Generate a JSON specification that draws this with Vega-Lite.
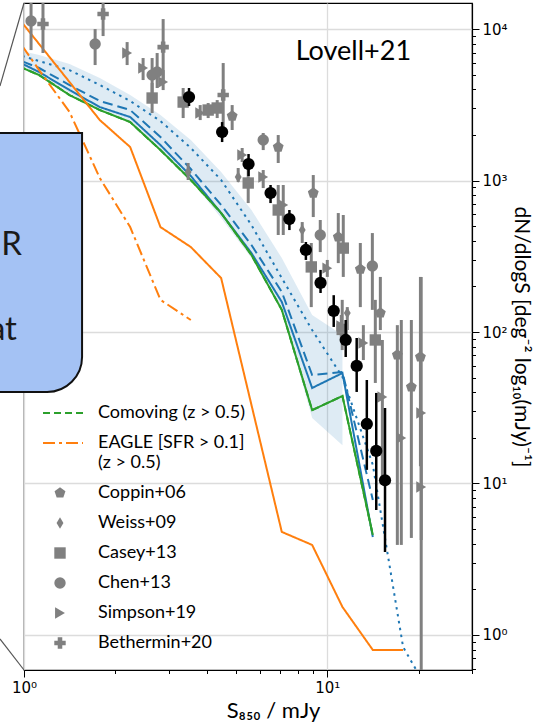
{
  "$schema": "https://vega.github.io/schema/vega-lite/v6.json",
  "width": 448,
  "height": 667,
  "autosize": {"type": "none"},
  "padding": {"left": 24, "top": 3, "right": 67, "bottom": 54},
  "background": "white",
  "config": {
    "view": {"stroke": "#000", "strokeWidth": 1.2},
    "font": "Lato"
  },
  "datasets": {
    "models": [
      {"s": "Fiducial", "x": 0.891, "y": 6530}, {"s": "Fiducial", "x": 1.122, "y": 5200}, {"s": "Fiducial", "x": 1.413, "y": 3956},
      {"s": "Fiducial", "x": 1.778, "y": 3055}, {"s": "Fiducial", "x": 2.239, "y": 2626}, {"s": "Fiducial", "x": 2.818, "y": 1714},
      {"s": "Fiducial", "x": 3.548, "y": 1071}, {"s": "Fiducial", "x": 4.467, "y": 610}, {"s": "Fiducial", "x": 5.623, "y": 332},
      {"s": "Fiducial", "x": 7.079, "y": 158}, {"s": "Fiducial", "x": 8.913, "y": 42.7}, {"s": "Fiducial", "x": 11.22, "y": 53.6},
      {"s": "Fiducial", "x": 14.13, "y": 4.43},
      {"s": "Fiducial (z > 0.5)", "x": 0.891, "y": 6637}, {"s": "Fiducial (z > 0.5)", "x": 1.122, "y": 5530}, {"s": "Fiducial (z > 0.5)", "x": 1.413, "y": 4270},
      {"s": "Fiducial (z > 0.5)", "x": 1.778, "y": 3350}, {"s": "Fiducial (z > 0.5)", "x": 2.239, "y": 2920}, {"s": "Fiducial (z > 0.5)", "x": 2.818, "y": 1937},
      {"s": "Fiducial (z > 0.5)", "x": 3.548, "y": 1191}, {"s": "Fiducial (z > 0.5)", "x": 4.467, "y": 689}, {"s": "Fiducial (z > 0.5)", "x": 5.623, "y": 375},
      {"s": "Fiducial (z > 0.5)", "x": 7.079, "y": 184}, {"s": "Fiducial (z > 0.5)", "x": 8.913, "y": 52.0}, {"s": "Fiducial (z > 0.5)", "x": 11.22, "y": 54.4},
      {"s": "Fiducial (z > 0.5)", "x": 14.13, "y": 7.78},
      {"s": "Lightcone", "x": 0.891, "y": 7047}, {"s": "Lightcone", "x": 1.122, "y": 6150}, {"s": "Lightcone", "x": 1.413, "y": 5360},
      {"s": "Lightcone", "x": 1.778, "y": 4270}, {"s": "Lightcone", "x": 2.239, "y": 3350}, {"s": "Lightcone", "x": 2.818, "y": 2470},
      {"s": "Lightcone", "x": 3.548, "y": 1640}, {"s": "Lightcone", "x": 4.467, "y": 1008}, {"s": "Lightcone", "x": 5.623, "y": 508},
      {"s": "Lightcone", "x": 7.079, "y": 227}, {"s": "Lightcone", "x": 8.913, "y": 103}, {"s": "Lightcone", "x": 11.22, "y": 50.5},
      {"s": "Lightcone", "x": 14.13, "y": 13.25}, {"s": "Lightcone", "x": 17.78, "y": 0.833}, {"s": "Lightcone", "x": 22.39, "y": 0.372},
      {"s": "Comoving", "x": 0.891, "y": 6053}, {"s": "Comoving", "x": 1.122, "y": 4970}, {"s": "Comoving", "x": 1.413, "y": 3666},
      {"s": "Comoving", "x": 1.778, "y": 2920}, {"s": "Comoving", "x": 2.239, "y": 2432}, {"s": "Comoving", "x": 2.818, "y": 1589},
      {"s": "Comoving", "x": 3.548, "y": 1008}, {"s": "Comoving", "x": 4.467, "y": 610}, {"s": "Comoving", "x": 5.623, "y": 322},
      {"s": "Comoving", "x": 7.079, "y": 140}, {"s": "Comoving", "x": 8.913, "y": 30.5}, {"s": "Comoving", "x": 11.22, "y": 37.8},
      {"s": "Comoving", "x": 14.13, "y": 4.57},
      {"s": "Comoving (z > 0.5)", "x": 0.891, "y": 6053}, {"s": "Comoving (z > 0.5)", "x": 1.122, "y": 4970}, {"s": "Comoving (z > 0.5)", "x": 1.413, "y": 3666},
      {"s": "Comoving (z > 0.5)", "x": 1.778, "y": 2920}, {"s": "Comoving (z > 0.5)", "x": 2.239, "y": 2432}, {"s": "Comoving (z > 0.5)", "x": 2.818, "y": 1589},
      {"s": "Comoving (z > 0.5)", "x": 3.548, "y": 1008}, {"s": "Comoving (z > 0.5)", "x": 4.467, "y": 610}, {"s": "Comoving (z > 0.5)", "x": 5.623, "y": 322},
      {"s": "Comoving (z > 0.5)", "x": 7.079, "y": 140}, {"s": "Comoving (z > 0.5)", "x": 8.913, "y": 30.5}, {"s": "Comoving (z > 0.5)", "x": 11.22, "y": 37.8},
      {"s": "Comoving (z > 0.5)", "x": 14.13, "y": 4.57},
      {"s": "EAGLE [SFR > 0.1]", "x": 0.891, "y": 14190}, {"s": "EAGLE [SFR > 0.1]", "x": 1.122, "y": 7960}, {"s": "EAGLE [SFR > 0.1]", "x": 1.413, "y": 4467},
      {"s": "EAGLE [SFR > 0.1]", "x": 1.778, "y": 2507}, {"s": "EAGLE [SFR > 0.1]", "x": 2.239, "y": 1664}, {"s": "EAGLE [SFR > 0.1]", "x": 2.818, "y": 493},
      {"s": "EAGLE [SFR > 0.1]", "x": 3.548, "y": 364}, {"s": "EAGLE [SFR > 0.1]", "x": 4.467, "y": 227}, {"s": "EAGLE [SFR > 0.1]", "x": 5.623, "y": 33.0},
      {"s": "EAGLE [SFR > 0.1]", "x": 7.079, "y": 4.79}, {"s": "EAGLE [SFR > 0.1]", "x": 8.913, "y": 3.93}, {"s": "EAGLE [SFR > 0.1]", "x": 11.22, "y": 1.53},
      {"s": "EAGLE [SFR > 0.1]", "x": 14.13, "y": 0.796}, {"s": "EAGLE [SFR > 0.1]", "x": 17.78, "y": 0.796},
      {"s": "EAGLE [SFR > 0.1] (z > 0.5)", "x": 0.891, "y": 10310}, {"s": "EAGLE [SFR > 0.1] (z > 0.5)", "x": 1.122, "y": 5360},
      {"s": "EAGLE [SFR > 0.1] (z > 0.5)", "x": 1.413, "y": 2833}, {"s": "EAGLE [SFR > 0.1] (z > 0.5)", "x": 1.778, "y": 1039},
      {"s": "EAGLE [SFR > 0.1] (z > 0.5)", "x": 2.239, "y": 493}, {"s": "EAGLE [SFR > 0.1] (z > 0.5)", "x": 2.818, "y": 163},
      {"s": "EAGLE [SFR > 0.1] (z > 0.5)", "x": 3.548, "y": 120}
    ],
    "spread": [
      {"x": 0.891, "lo": 6237, "hi": 7498}, {"x": 1.122, "lo": 4970, "hi": 6735}, {"x": 1.413, "lo": 3781, "hi": 5875},
      {"x": 1.778, "lo": 2920, "hi": 4750}, {"x": 2.239, "lo": 2432, "hi": 3666}, {"x": 2.818, "lo": 1589, "hi": 2706},
      {"x": 3.548, "lo": 1008, "hi": 1850}, {"x": 4.467, "lo": 566, "hi": 1138}, {"x": 5.623, "lo": 308, "hi": 639},
      {"x": 7.079, "lo": 140, "hi": 308}, {"x": 8.913, "lo": 27.1, "hi": 129.5}, {"x": 11.22, "lo": 17.9, "hi": 95.5}
    ],
    "literature": [
      {"src": "Chen+13", "x": 1.055, "y": 11290, "lo": 7265, "hi": 20000},
      {"src": "Chen+13", "x": 1.716, "y": 7960, "lo": 5786, "hi": 10000},
      {"src": "Chen+13", "x": 2.645, "y": 4970, "lo": 3556, "hi": 6437},
      {"src": "Chen+13", "x": 2.748, "y": 5200, "lo": 4080, "hi": 6946},
      {"src": "Chen+13", "x": 6.148, "y": 1850, "lo": 1589, "hi": 2059},
      {"src": "Chen+13", "x": 9.48, "y": 437, "lo": 337, "hi": 549},
      {"src": "Chen+13", "x": 14.08, "y": 273, "lo": 140, "hi": 450},
      {"src": "Bethermin+20", "x": 1.155, "y": 10790, "lo": 6946, "hi": 20000},
      {"src": "Bethermin+20", "x": 1.823, "y": 12560, "lo": 8990, "hi": 20000},
      {"src": "Bethermin+20", "x": 2.876, "y": 7600, "lo": 4402, "hi": 11640},
      {"src": "Bethermin+20", "x": 4.537, "y": 3666, "lo": 2090, "hi": 5966},
      {"src": "Simpson+19", "x": 2.188, "y": 6946, "lo": 5786, "hi": 8204},
      {"src": "Simpson+19", "x": 2.47, "y": 5530, "lo": 4607, "hi": 6437},
      {"src": "Simpson+19", "x": 2.876, "y": 4467, "lo": 3956, "hi": 5360},
      {"src": "Simpson+19", "x": 3.81, "y": 2790, "lo": 2507, "hi": 3149},
      {"src": "Simpson+19", "x": 5.24, "y": 1473, "lo": 1325, "hi": 1640},
      {"src": "Simpson+19", "x": 6.148, "y": 1055, "lo": 892, "hi": 1173},
      {"src": "Simpson+19", "x": 7.158, "y": 689, "lo": 437, "hi": 934},
      {"src": "Simpson+19", "x": 10.0, "y": 264, "lo": 231, "hi": 299},
      {"src": "Simpson+19", "x": 11.12, "y": 109.5, "lo": 88.6, "hi": 129.5},
      {"src": "Simpson+19", "x": 13.15, "y": 84.6, "lo": 65.3, "hi": 111},
      {"src": "Simpson+19", "x": 15.19, "y": 37.2, "lo": 11, "hi": 88.6},
      {"src": "Simpson+19", "x": 17.54, "y": 19.96, "lo": 3.93, "hi": 120},
      {"src": "Simpson+19", "x": 20.4, "y": 29.2, "lo": 4.24, "hi": 231},
      {"src": "Simpson+19", "x": 20.4, "y": 9.48, "lo": 0.3, "hi": 30},
      {"src": "Casey+13", "x": 2.645, "y": 3505, "lo": 2790, "hi": 4402},
      {"src": "Casey+13", "x": 3.348, "y": 3296, "lo": 2585, "hi": 4080},
      {"src": "Casey+13", "x": 4.048, "y": 2920, "lo": 2585, "hi": 3248},
      {"src": "Casey+13", "x": 4.335, "y": 3011, "lo": 2585, "hi": 3398},
      {"src": "Casey+13", "x": 5.486, "y": 963, "lo": 710, "hi": 1228},
      {"src": "Casey+13", "x": 6.89, "y": 639, "lo": 437, "hi": 934},
      {"src": "Casey+13", "x": 8.855, "y": 269, "lo": 146, "hi": 387},
      {"src": "Casey+13", "x": 11.29, "y": 358, "lo": 231, "hi": 592},
      {"src": "Casey+13", "x": 11.2, "y": 104, "lo": 76, "hi": 163},
      {"src": "Casey+13", "x": 14.4, "y": 88.6, "lo": 46.1, "hi": 163},
      {"src": "Coppin+06", "x": 4.857, "y": 2666, "lo": 2155, "hi": 3149},
      {"src": "Coppin+06", "x": 6.89, "y": 1664, "lo": 1305, "hi": 1997},
      {"src": "Coppin+06", "x": 8.99, "y": 827, "lo": 574, "hi": 1087},
      {"src": "Coppin+06", "x": 10.87, "y": 424, "lo": 285, "hi": 610},
      {"src": "Coppin+06", "x": 12.85, "y": 260, "lo": 146, "hi": 387},
      {"src": "Coppin+06", "x": 14.96, "y": 133.5, "lo": 103, "hi": 231},
      {"src": "Coppin+06", "x": 17.02, "y": 70.5, "lo": 3.93, "hi": 111},
      {"src": "Coppin+06", "x": 18.93, "y": 43.4, "lo": 4.37, "hi": 120},
      {"src": "Coppin+06", "x": 20.28, "y": 68.4, "lo": 13, "hi": 231},
      {"src": "Weiss+09", "x": 3.477, "y": 1138, "lo": 1008, "hi": 1305},
      {"src": "Weiss+09", "x": 5.084, "y": 1055, "lo": 977, "hi": 1210},
      {"src": "Weiss+09", "x": 8.267, "y": 471, "lo": 387, "hi": 532},
      {"src": "Weiss+09", "x": 11.64, "y": 133.5, "lo": 103, "hi": 146}
    ],
    "counts": [
      {"x": 3.5, "y": 3556, "lo": 3103, "hi": 4080},
      {"x": 4.5, "y": 2090, "lo": 1795, "hi": 2432},
      {"x": 5.5, "y": 1285, "lo": 1071, "hi": 1496},
      {"x": 6.5, "y": 827, "lo": 710, "hi": 934},
      {"x": 7.5, "y": 557, "lo": 471, "hi": 639},
      {"x": 8.5, "y": 348, "lo": 299, "hi": 393},
      {"x": 9.5, "y": 211, "lo": 181, "hi": 257},
      {"x": 10.5, "y": 138, "lo": 108, "hi": 175},
      {"x": 11.5, "y": 88.6, "lo": 68.4, "hi": 120},
      {"x": 12.5, "y": 59.7, "lo": 40.2, "hi": 91.3},
      {"x": 13.5, "y": 24.7, "lo": 12.3, "hi": 48.2},
      {"x": 14.5, "y": 16.4, "lo": 6.68, "hi": 39.6},
      {"x": 15.5, "y": 10.5, "lo": 3.53, "hi": 31.5}
    ],
    "note": [{}]
  },
  "layer": [
    {
      "data": {"name": "spread"},
      "mark": {"type": "area", "color": "#1f77b4", "opacity": 0.15, "clip": true},
      "encoding": {
        "x": {
          "field": "x",
          "type": "quantitative",
          "scale": {"type": "log", "domain": [1, 30], "nice": false},
          "axis": {
            "orient": "bottom",
            "values": [1, 2, 3, 4, 5, 6, 7, 8, 9, 10, 20, 30],
            "labelExpr": "datum.value == 1 ? '10⁰' : datum.value == 10 ? '10¹' : ''",
            "labelFlush": false,
            "labelOverlap": false,
            "labelFont": "DejaVu Sans",
            "labelFontSize": 15,
            "labelColor": "#000",
            "labelPadding": 3,
            "tickColor": "#000",
            "tickWidth": 1,
            "tickSize": {"condition": {"test": "datum.value == 1 || datum.value == 10", "value": 7}, "value": 3.5},
            "grid": true,
            "gridColor": "#dcdcdc",
            "gridWidth": 1.3,
            "gridOpacity": {"condition": {"test": "datum.value == 1 || datum.value == 10", "value": 1}, "value": 0},
            "domainColor": "#000",
            "domainWidth": 1.2,
            "title": "S₈₅₀ / mJy",
            "titleFont": "Lato",
            "titleFontSize": 22,
            "titleFontWeight": "normal",
            "titleColor": "#000",
            "titleX": 249,
            "titleY": 47,
            "titleAlign": "center",
            "titleBaseline": "alphabetic"
          }
        },
        "y": {
          "field": "lo",
          "type": "quantitative",
          "scale": {"type": "log", "domain": [0.587, 14860], "nice": false},
          "axis": {
            "orient": "right",
            "values": [0.6, 0.7, 0.8, 0.9, 1, 2, 3, 4, 5, 6, 7, 8, 9, 10, 20, 30, 40, 50, 60, 70, 80, 90, 100, 200, 300, 400, 500, 600, 700, 800, 900, 1000, 2000, 3000, 4000, 5000, 6000, 7000, 8000, 9000, 10000],
            "labelExpr": "datum.value == 1 ? '10⁰' : datum.value == 10 ? '10¹' : datum.value == 100 ? '10²' : datum.value == 1000 ? '10³' : datum.value == 10000 ? '10⁴' : ''",
            "labelOverlap": false,
            "labelFont": "DejaVu Sans",
            "labelFontSize": 15,
            "labelColor": "#000",
            "labelPadding": 3,
            "tickColor": "#000",
            "tickWidth": 1,
            "tickSize": {"condition": {"test": "datum.value == 1 || datum.value == 10 || datum.value == 100 || datum.value == 1000 || datum.value == 10000", "value": 7}, "value": 3.5},
            "grid": true,
            "gridColor": "#dcdcdc",
            "gridWidth": 1.3,
            "gridOpacity": {"condition": {"test": "datum.value == 1 || datum.value == 10 || datum.value == 100 || datum.value == 1000 || datum.value == 10000", "value": 1}, "value": 0},
            "domainColor": "#000",
            "domainWidth": 1.2,
            "title": "dN/dlogS  [deg⁻²  log₁₀(mJy)⁻¹]",
            "titleFont": "Lato",
            "titleFontSize": 21,
            "titleFontWeight": "normal",
            "titleColor": "#000",
            "titleAngle": 90,
            "titlePadding": 3
          }
        },
        "y2": {"field": "hi"}
      }
    },
    {
      "data": {"name": "models"},
      "mark": {"type": "line", "strokeWidth": 2, "clip": true},
      "encoding": {
        "x": {"field": "x", "type": "quantitative"},
        "y": {"field": "y", "type": "quantitative"},
        "color": {
          "field": "s",
          "type": "nominal",
          "scale": {
            "domain": ["Fiducial", "Fiducial (z > 0.5)", "Lightcone", "Comoving", "Comoving (z > 0.5)", "EAGLE [SFR > 0.1]", "EAGLE [SFR > 0.1] (z > 0.5)"],
            "range": ["#1f77b4", "#1f77b4", "#1f77b4", "#2ca02c", "#2ca02c", "#ff7f0e", "#ff7f0e"]
          },
          "legend": {
            "orient": "none", "legendX": 18, "legendY": 389, "title": null, "padding": 0,
            "values": ["Comoving (z > 0.5)", "EAGLE [SFR > 0.1] (z > 0.5)"],
            "symbolType": "stroke", "symbolSize": 1600, "symbolStrokeWidth": 2,
            "labelFont": "Lato", "labelFontSize": 18, "labelColor": "#000", "labelOffset": 14, "labelLimit": 300,
            "rowPadding": 0,
            "labelExpr": "datum.label == 'EAGLE [SFR > 0.1] (z > 0.5)' ? ['EAGLE [SFR > 0.1]', '(z > 0.5)'] : datum.label"
          }
        },
        "strokeDash": {
          "field": "s",
          "type": "nominal",
          "scale": {
            "domain": ["Fiducial", "Fiducial (z > 0.5)", "Lightcone", "Comoving", "Comoving (z > 0.5)", "EAGLE [SFR > 0.1]", "EAGLE [SFR > 0.1] (z > 0.5)"],
            "range": [[1, 0], [10, 5], [2.5, 4.5], [1, 0], [7, 4], [1, 0], [12, 4, 3, 4]]
          },
          "legend": {
            "orient": "none", "legendX": 18, "legendY": 389, "title": null, "padding": 0,
            "values": ["Comoving (z > 0.5)", "EAGLE [SFR > 0.1] (z > 0.5)"],
            "symbolType": "stroke", "symbolSize": 1600, "symbolStrokeWidth": 2,
            "labelFont": "Lato", "labelFontSize": 18, "labelColor": "#000", "labelOffset": 14, "labelLimit": 300,
            "rowPadding": 0,
            "labelExpr": "datum.label == 'EAGLE [SFR > 0.1] (z > 0.5)' ? ['EAGLE [SFR > 0.1]', '(z > 0.5)'] : datum.label"
          }
        }
      }
    },
    {
      "data": {"name": "literature"},
      "mark": {"type": "rule", "color": "#808080", "strokeWidth": 3, "clip": true},
      "encoding": {
        "x": {"field": "x", "type": "quantitative"},
        "y": {"field": "lo", "type": "quantitative"},
        "y2": {"field": "hi"}
      }
    },
    {
      "data": {"name": "literature"},
      "mark": {"type": "point", "filled": true, "color": "#808080", "opacity": 1, "size": 130, "clip": true},
      "encoding": {
        "x": {"field": "x", "type": "quantitative"},
        "y": {"field": "y", "type": "quantitative"},
        "shape": {
          "field": "src",
          "type": "nominal",
          "scale": {
            "domain": ["Coppin+06", "Weiss+09", "Casey+13", "Chen+13", "Simpson+19", "Bethermin+20"],
            "range": ["M0,-1L0.951,-0.309L0.588,0.809L-0.588,0.809L-0.951,-0.309Z", "M0,-1L0.6,0L0,1L-0.6,0Z", "square", "circle", "triangle-right", "cross"]
          },
          "legend": {
            "orient": "none", "legendX": 27, "legendY": 481, "title": null, "padding": 0,
            "symbolSize": 130, "symbolFillColor": "#808080", "symbolStrokeColor": "#808080", "symbolStrokeWidth": 0,
            "labelFont": "Lato", "labelFontSize": 18, "labelColor": "#000", "labelOffset": 29,
            "rowPadding": 12
          }
        }
      }
    },
    {
      "data": {"name": "counts"},
      "mark": {"type": "rule", "color": "#000", "strokeWidth": 2.5, "clip": true},
      "encoding": {
        "x": {"field": "x", "type": "quantitative"},
        "y": {"field": "lo", "type": "quantitative"},
        "y2": {"field": "hi"}
      }
    },
    {
      "data": {"name": "counts"},
      "mark": {"type": "point", "filled": true, "shape": "circle", "color": "#000", "opacity": 1, "size": 150, "clip": true},
      "encoding": {
        "x": {"field": "x", "type": "quantitative"},
        "y": {"field": "y", "type": "quantitative"}
      }
    },
    {
      "data": {"name": "note"},
      "mark": {"type": "text", "text": "Lovell+21", "font": "Lato", "fontSize": 27, "color": "#000", "align": "center", "baseline": "alphabetic"},
      "encoding": {
        "x": {"datum": 12.19, "type": "quantitative"},
        "y": {"datum": 6240, "type": "quantitative"}
      }
    },
    {
      "data": {"name": "note"},
      "mark": {"type": "rect", "clip": false, "fill": "#a4c2f4", "stroke": "#111", "strokeWidth": 2, "cornerRadiusBottomRight": 35},
      "encoding": {
        "x": {"datum": 0.5, "type": "quantitative"},
        "x2": {"datum": 1.554},
        "y": {"datum": 2059, "type": "quantitative"},
        "y2": {"datum": 40.2}
      }
    },
    {
      "data": {"name": "note"},
      "mark": {"type": "text", "text": "R", "font": "Lato", "fontSize": 33, "color": "#1a1a1a", "align": "right", "baseline": "alphabetic", "clip": false},
      "encoding": {
        "x": {"datum": 0.985, "type": "quantitative"},
        "y": {"datum": 322, "type": "quantitative"}
      }
    },
    {
      "data": {"name": "note"},
      "mark": {"type": "text", "text": "at", "font": "Lato", "fontSize": 33, "color": "#1a1a1a", "align": "right", "baseline": "alphabetic", "clip": false},
      "encoding": {
        "x": {"datum": 0.948, "type": "quantitative"},
        "y": {"datum": 88.6, "type": "quantitative"}
      }
    },
    {
      "data": {"name": "note"},
      "mark": {"type": "rule", "clip": false, "color": "#555", "strokeWidth": 1.2},
      "encoding": {
        "x": {"datum": 1, "type": "quantitative"},
        "x2": {"datum": 0.833},
        "y": {"datum": 14860, "type": "quantitative"},
        "y2": {"datum": 4207}
      }
    },
    {
      "data": {"name": "note"},
      "mark": {"type": "rule", "clip": false, "color": "#555", "strokeWidth": 1.2},
      "encoding": {
        "x": {"datum": 1, "type": "quantitative"},
        "x2": {"datum": 0.833},
        "y": {"datum": 0.587, "type": "quantitative"},
        "y2": {"datum": 0.941}
      }
    }
  ],
  "resolve": {"scale": {"color": "independent", "shape": "independent", "strokeDash": "independent"}}
}
